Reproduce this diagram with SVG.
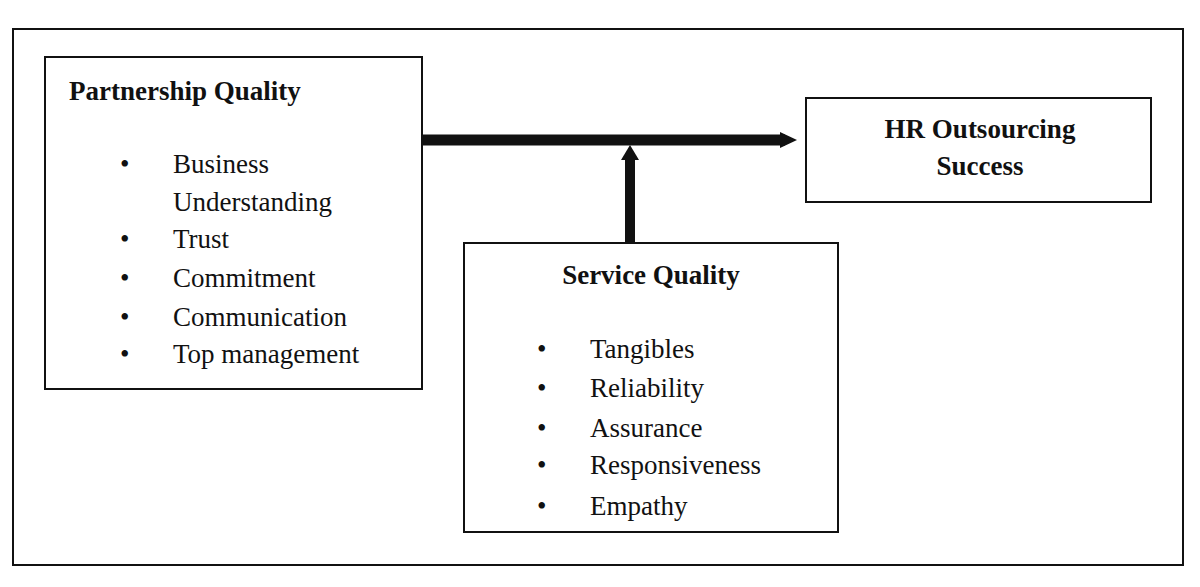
<svg xmlns="http://www.w3.org/2000/svg" width="1200" height="587" viewBox="0 0 1200 587">
<style>
.b{fill:#fff;stroke:#111;stroke-width:2}
.t{font-family:"Liberation Serif",serif;font-size:27px;font-weight:bold;fill:#111}
.i{font-family:"Liberation Serif",serif;font-size:27px;fill:#111}
</style>
<rect x="0" y="0" width="1200" height="587" fill="#fff"/>
<rect x="13" y="29" width="1170" height="536" fill="none" stroke="#111" stroke-width="2"/>
<g id="connectors">
<path d="M423 140 H785" stroke="#111" stroke-width="11" fill="none"/>
<polygon points="780,132 797,140 780,148" fill="#111"/>
<path d="M630 243 V158" stroke="#111" stroke-width="10" fill="none"/>
<polygon points="621,160 630,145 639,160" fill="#111"/>
</g>
<g id="partnership">
<rect class="b" x="45" y="57" width="377" height="332"/>
<text class="t" x="69" y="100">Partnership Quality</text>
<g class="i">
<text x="120" y="173">•</text><text x="173" y="173">Business</text>
<text x="173" y="211">Understanding</text>
<text x="120" y="248">•</text><text x="173" y="248">Trust</text>
<text x="120" y="287">•</text><text x="173" y="287">Commitment</text>
<text x="120" y="326">•</text><text x="173" y="326">Communication</text>
<text x="120" y="363">•</text><text x="173" y="363">Top management</text>
</g>
</g>
<g id="hr">
<rect class="b" x="806" y="98" width="345" height="104"/>
<text class="t" x="980" y="138" text-anchor="middle">HR Outsourcing</text>
<text class="t" x="980" y="175" text-anchor="middle">Success</text>
</g>
<g id="service">
<rect class="b" x="464" y="243" width="374" height="289"/>
<text class="t" x="651" y="284" text-anchor="middle">Service Quality</text>
<g class="i">
<text x="537" y="358">•</text><text x="590" y="358">Tangibles</text>
<text x="537" y="397">•</text><text x="590" y="397">Reliability</text>
<text x="537" y="437">•</text><text x="590" y="437">Assurance</text>
<text x="537" y="474">•</text><text x="590" y="474">Responsiveness</text>
<text x="537" y="515">•</text><text x="590" y="515">Empathy</text>
</g>
</g>
</svg>
